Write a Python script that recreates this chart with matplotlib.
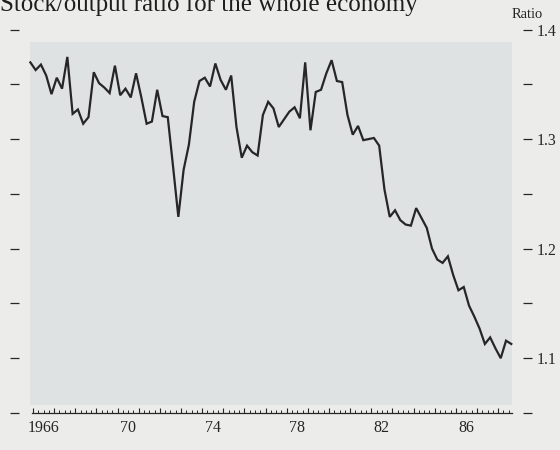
import matplotlib
matplotlib.use("Agg")
import matplotlib.pyplot as plt
import numpy as np
from matplotlib.patches import Rectangle
from matplotlib.ticker import MultipleLocator, FixedLocator, NullFormatter

# Quarterly stock/output ratio, 1965 Q4 .. 1988 Q3
start_year = 1965.875
ratio = [
    1.370, 1.363, 1.368, 1.358, 1.341, 1.356, 1.346, 1.375, 1.323, 1.327,
    1.314, 1.320, 1.361, 1.351, 1.347, 1.342, 1.367, 1.340, 1.346, 1.338,
    1.360, 1.338, 1.314, 1.316, 1.345, 1.321, 1.320, 1.275, 1.229, 1.272,
    1.295, 1.334, 1.353, 1.356, 1.348, 1.369, 1.354, 1.345, 1.358, 1.311,
    1.283, 1.294, 1.288, 1.285, 1.322, 1.334, 1.328, 1.311, 1.318, 1.325,
    1.329, 1.319, 1.370, 1.308, 1.343, 1.345, 1.360, 1.372, 1.353, 1.352,
    1.322, 1.304, 1.312, 1.299, 1.300, 1.301, 1.294, 1.254, 1.229, 1.235,
    1.226, 1.222, 1.221, 1.237, 1.228, 1.219, 1.200, 1.190, 1.187, 1.193,
    1.176, 1.162, 1.165, 1.148, 1.138, 1.127, 1.113, 1.119, 1.109, 1.100,
    1.116, 1.113,
]
years = start_year + 0.25 * np.arange(len(ratio))

label_positions = [1966.5, 1970.5, 1974.5, 1978.5, 1982.5, 1986.5]
label_texts = ["1966", "70", "74", "78", "82", "86"]
y_ticks = [1.05, 1.10, 1.15, 1.20, 1.25, 1.30, 1.35, 1.40]
y_labels = ["", "1.1", "", "1.2", "", "1.3", "", "1.4"]

paper = "#ecedeb"
shade = "#dfe2e3"
ink = "#262626"

plt.rcParams["font.family"] = ["Liberation Serif", "DejaVu Serif"]

fig = plt.figure(figsize=(5.6, 4.5), dpi=100, facecolor=paper)

# shaded panel behind the plot
fig.patches.append(Rectangle((30 / 560, 45 / 450), 482 / 560, 363 / 450,
                             transform=fig.transFigure, facecolor=shade,
                             edgecolor="none", zorder=-5))

ax = fig.add_axes([32 / 560, (450 - 413) / 450, 480 / 560, (413 - 29.5) / 450])
ax.set_zorder(2)
ax.set_facecolor("none")
ax.plot(years, ratio, color=ink, lw=1.6, clip_on=False, solid_joinstyle="miter")

ax.set_xlim(1965.953, 1988.658)
ax.set_ylim(1.05, 1.40)

for s in ["top", "left", "right"]:
    ax.spines[s].set_visible(False)
ax.spines["bottom"].set_color(ink)
ax.spines["bottom"].set_linewidth(0.9)

# x ticks: years (major) and quarters (minor), pointing up
ax.xaxis.set_major_locator(FixedLocator(np.arange(1966, 1989)))
ax.xaxis.set_minor_locator(MultipleLocator(0.25))
ax.xaxis.set_major_formatter(NullFormatter())
ax.tick_params(axis="x", which="major", direction="in", length=3.5, width=0.8, color=ink)
ax.tick_params(axis="x", which="minor", direction="in", length=2.0, width=0.7, color=ink)

sec = ax.secondary_xaxis("bottom")
sec.set_xticks(label_positions)
sec.set_xticklabels(label_texts)
sec.tick_params(length=0, pad=5, labelsize=11.5, colors=ink)
sec.spines["bottom"].set_visible(False)

# y ticks: short dashes detached from the panel on both sides
ax.yaxis.set_ticks_position("both")
ax.set_yticks(y_ticks)
ax.set_yticklabels(y_labels)
ax.spines["left"].set_position(("outward", 9.5))
ax.spines["right"].set_position(("outward", 8))
ax.tick_params(axis="y", which="both", direction="out", length=6.5, width=0.9,
               color=ink, left=True, right=True, labelleft=False,
               labelright=True, pad=3, labelsize=11.5, labelcolor=ink)

ax.text(1.0, 1.022, "Ratio", transform=ax.transAxes, fontsize=10.5, color=ink,
        ha="left", va="bottom")

fig.text(0.0, 1 - 11 / 450, "Stock/output ratio for the whole economy",
         fontsize=18, color="#1e1e1e", ha="left", va="baseline")

fig.savefig("out.png", dpi=100, facecolor=paper)
